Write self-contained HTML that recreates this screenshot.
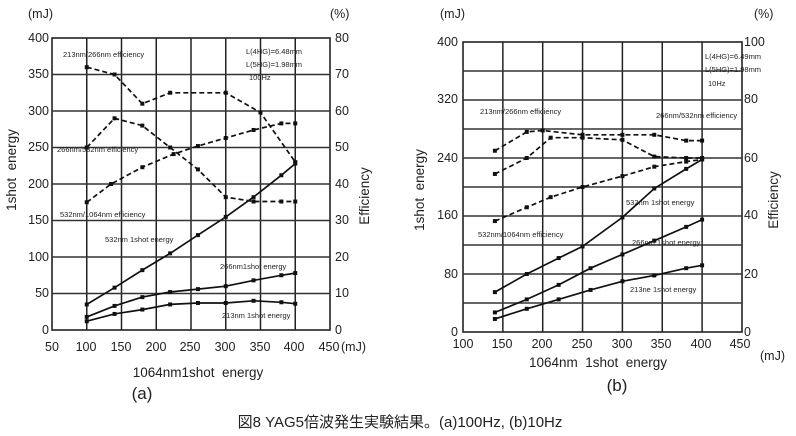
<!DOCTYPE html>
<html><head><meta charset="utf-8"><style>
body{margin:0;background:#fff;width:796px;height:436px;overflow:hidden}
svg{display:block}
text{font-family:"Liberation Sans","Noto Sans CJK JP",sans-serif;fill:#222}
.t{font-size:12.5px}
.a{font-size:13.5px}
.s{font-size:7.5px}
</style></head><body>
<svg id="s" width="796" height="436" viewBox="0 0 796 436">
<g id="g"></g>
<text class="t" x="28" y="18">(mJ)</text>
<text class="t" x="330" y="18">(%)</text>
<g class="t" text-anchor="end">
<text x="49" y="42">400</text><text x="49" y="78">350</text><text x="49" y="115">300</text><text x="49" y="151">250</text><text x="49" y="188">200</text><text x="49" y="224">150</text><text x="49" y="261">100</text><text x="49" y="297">50</text><text x="49" y="334">0</text>
</g>
<g class="t">
<text x="335" y="42">80</text><text x="335" y="78">70</text><text x="335" y="115">60</text><text x="335" y="151">50</text><text x="335" y="188">40</text><text x="335" y="224">30</text><text x="335" y="261">20</text><text x="335" y="297">10</text><text x="335" y="334">0</text>
</g>
<g class="t" text-anchor="middle">
<text x="52" y="351">50</text><text x="86" y="351">100</text><text x="121" y="351">150</text><text x="156" y="351">200</text><text x="190" y="351">250</text><text x="225" y="351">300</text><text x="260" y="351">350</text><text x="294" y="351">400</text><text x="329" y="351">450</text>
</g>
<text class="t" x="341" y="351">(mJ)</text>
<text class="a" x="198" y="377" text-anchor="middle">1064nm1shot&#160;&#160;energy</text>
<text x="142" y="399" text-anchor="middle" style="font-size:17px">(a)</text>
<text class="a" transform="translate(16,170) rotate(-90)" text-anchor="middle">1shot&#160;&#160;energy</text>
<text class="a" transform="translate(369,196) rotate(-90)" text-anchor="middle">Efficiency</text>
<g class="s">
<text x="63" y="57">213nm/266nm efficiency</text>
<text x="246" y="54">L(4HG)=6.48mm</text>
<text x="246" y="67">L(5HG)=1.98mm</text>
<text x="249" y="80">100Hz</text>
<text x="57" y="152">266nm/532nm efficiency</text>
<text x="60" y="217">532nm/1064nm efficiency</text>
<text x="105" y="242">532nm 1shot energy</text>
<text x="220" y="269">266nm1shot energy</text>
<text x="222" y="318">213nm 1shot energy</text>
</g>
<text class="t" x="440" y="18">(mJ)</text>
<text class="t" x="754" y="18">(%)</text>
<g class="t" text-anchor="end">
<text x="458" y="46">400</text><text x="458" y="103">320</text><text x="458" y="162">240</text><text x="458" y="219">160</text><text x="458" y="278">80</text><text x="458" y="336">0</text>
</g>
<g class="t">
<text x="744" y="46">100</text><text x="744" y="103">80</text><text x="744" y="162">60</text><text x="744" y="219">40</text><text x="744" y="278">20</text><text x="744" y="336">0</text>
</g>
<g class="t" text-anchor="middle">
<text x="463" y="348">100</text><text x="502" y="348">150</text><text x="542" y="348">200</text><text x="582" y="348">250</text><text x="622" y="348">300</text><text x="661" y="348">350</text><text x="701" y="348">400</text><text x="740" y="348">450</text>
</g>
<text class="t" x="760" y="360">(mJ)</text>
<text class="a" x="598" y="367" text-anchor="middle">1064nm&#160;&#160;1shot&#160;&#160;energy</text>
<text x="617" y="391" text-anchor="middle" style="font-size:17px">(b)</text>
<text class="a" transform="translate(424,190) rotate(-90)" text-anchor="middle">1shot&#160;&#160;energy</text>
<text class="a" transform="translate(778,200) rotate(-90)" text-anchor="middle">Efficiency</text>
<g class="s">
<text x="705" y="59">L(4HG)=6.49mm</text>
<text x="705" y="72">L(5HG)=1.98mm</text>
<text x="708" y="86">10Hz</text>
<text x="480" y="114">213nm/266nm efficiency</text>
<text x="656" y="118">266nm/532nm efficiency</text>
<text x="626" y="205">532nm 1shot energy</text>
<text x="478" y="237">532nm/1064nm efficiency</text>
<text x="632" y="245">266nm 1shot energy</text>
<text x="630" y="292">213ne 1shot energy</text>
</g>
<text x="400" y="427" text-anchor="middle" style="font-size:15px">図8 YAG5倍波発生実験結果。(a)100Hz, (b)10Hz</text>
</svg>
<script>
var g=document.getElementById('g'),NS='http://www.w3.org/2000/svg';
function el(n,a){var e=document.createElementNS(NS,n);for(var k in a)e.setAttribute(k,a[k]);g.appendChild(e);return e;}
function chart(X,Y,xs,ys,x0,x1,y0,y1,series){
 el('rect',{x:x0,y:y1,width:x1-x0,height:y0-y1,fill:'none',stroke:'#222','stroke-width':1.6});
 xs.forEach(function(v){el('line',{x1:X(v),x2:X(v),y1:y0,y2:y1,stroke:'#222','stroke-width':1.5});});
 ys.forEach(function(v){el('line',{x1:x0,x2:x1,y1:Y(v),y2:Y(v),stroke:'#333','stroke-width':1.5});});
 series.forEach(function(s){
  var p=s.d.map(function(q){return X(q[0]).toFixed(1)+','+Y(q[1]).toFixed(1)}).join(' ');
  var a={points:p,fill:'none',stroke:'#111','stroke-width':1.7};
  if(s.dash)a['stroke-dasharray']='5,3';
  el('polyline',a);
  s.d.forEach(function(q){el('rect',{x:X(q[0])-2,y:Y(q[1])-2,width:4,height:4,fill:'#111'});});
 });
}
var XA=function(v){return 52+(v-50)*0.695},YA=function(v){return 330-v*0.73};
chart(XA,YA,[100,150,200,250,300,350,400],[50,100,150,200,250,300,350],52,330,330,38,[
{dash:1,d:[[100,360],[140,350],[180,310],[220,325],[300,325],[350,298],[400,230]]},
{dash:1,d:[[100,250],[140,290],[180,280],[220,250],[260,220],[300,182],[340,176],[380,176],[400,176]]},
{dash:1,d:[[100,175],[135,200],[180,223],[225,241],[260,252],[300,263],[340,274],[380,283],[400,283]]},
{d:[[100,35],[140,58],[180,82],[220,105],[260,130],[300,155],[340,182],[380,212],[400,228]]},
{d:[[100,18],[140,33],[180,45],[220,52],[260,56],[300,60],[340,68],[380,75],[400,78]]},
{d:[[100,12],[140,22],[180,28],[220,35],[260,37],[300,37],[340,40],[380,38],[400,36]]}
]);
var XB=function(v){return 463+(v-100)*0.797},YB=function(v){return 332-v*0.725};
chart(XB,YB,[150,200,250,300,350,400],[40,80,120,160,200,240,280,320,360],463,742,332,42,[
{dash:1,d:[[140,250],[180,276],[200,278],[250,272],[300,272],[340,272],[380,264],[400,264]]},
{dash:1,d:[[140,218],[180,240],[210,268],[250,268],[300,265],[340,242],[380,240],[400,240]]},
{dash:1,d:[[140,153],[180,172],[210,186],[250,200],[300,215],[340,228],[380,235],[400,238]]},
{d:[[140,55],[180,80],[220,102],[250,118],[300,158],[340,198],[380,225],[400,238]]},
{d:[[140,27],[180,45],[220,65],[260,88],[300,107],[340,126],[380,145],[400,155]]},
{d:[[140,18],[180,32],[220,45],[260,58],[300,70],[340,78],[380,88],[400,92]]}
]);
</script>
</body></html>
